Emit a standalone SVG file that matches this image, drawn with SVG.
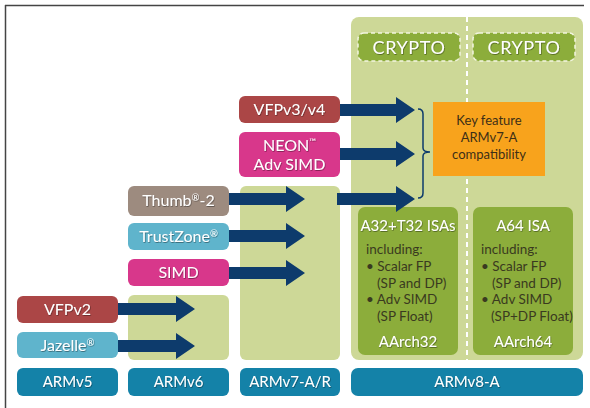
<svg xmlns="http://www.w3.org/2000/svg" width="590" height="408" viewBox="0 0 590 408">
<defs>
<filter id="sh" x="-10%" y="-20%" width="130%" height="150%">
<feDropShadow dx="0.6" dy="0.8" stdDeviation="0.5" flood-color="#000" flood-opacity="0.45"/>
</filter>
</defs>
<style>
text{font-family:Lato,"Liberation Sans",sans-serif;}
.lbl{fill:#fff;font-size:16px;text-anchor:middle;filter:url(#sh);}
.ver{fill:#fff;font-size:15px;text-anchor:middle;filter:url(#sh);}
.cry{fill:#fff;font-size:18px;letter-spacing:0.6px;text-anchor:middle;filter:url(#sh);}
.red{fill:#ab4646;}
.mag{fill:#d8378b;}
.tau{fill:#9d8b7f;}
.lb{fill:#5fb4cc;}
.teal{fill:#1482a8;}
.lg{fill:#cdd897;}
.dg{fill:#8cad3b;}
.arr{fill:#0d3b6c;}
.dark{fill:#3d2f17;font-size:13px;}
.inc{fill:#3a3a20;font-size:13.5px;}
.sm{fill:#3a3a20;font-size:13.5px;}
</style>
<rect width="590" height="408" fill="#fff"/>
<g id="frame" stroke="#444" stroke-width="1.5">
<line x1="5" y1="5.5" x2="584" y2="5.5"/>
<line x1="5.5" y1="5" x2="5.5" y2="408"/>
</g>
<g id="columns">
<rect class="lg" x="128" y="295" width="101" height="65" rx="6"/>
<rect class="lg" x="240" y="186" width="100" height="174" rx="6"/>
<rect class="lg" x="351" y="17" width="232" height="343" rx="8"/>
<line x1="467" y1="17" x2="467" y2="360" stroke="#fff" stroke-width="2" stroke-dasharray="5,4"/>
</g>
<g id="crypto32">
<rect class="dg" x="358" y="33" width="102" height="28" rx="6" stroke="#f2f5e0" stroke-width="1.5" stroke-dasharray="4,3"/>
<text class="cry" x="409" y="54">CRYPTO</text>
</g>
<g id="crypto64">
<rect class="dg" x="473" y="33" width="102" height="28" rx="6" stroke="#f2f5e0" stroke-width="1.5" stroke-dasharray="4,3"/>
<text class="cry" x="524" y="54">CRYPTO</text>
</g>
<g id="keyfeature">
<rect x="433" y="102" width="112" height="74" fill="#f8a31c"/>
<text class="dark" x="489" y="125" text-anchor="middle">Key feature</text>
<text class="dark" x="489" y="142" text-anchor="middle">ARMv7-A</text>
<text class="dark" x="489" y="159" text-anchor="middle">compatibility</text>
</g>
<g id="aarch32">
<rect class="dg" x="358" y="207" width="100" height="148" rx="7"/>
<text class="ver" x="408" y="231" font-size="13">A32+T32 ISAs</text>
<text class="inc" x="366" y="254">including:</text>
<text class="inc" x="366" y="271">• Scalar FP</text>
<text class="sm" x="377" y="288">(SP and DP)</text>
<text class="inc" x="366" y="304">• Adv SIMD</text>
<text class="sm" x="377" y="321">(SP Float)</text>
<text class="ver" x="408" y="347" font-size="16">AArch32</text>
</g>
<g id="aarch64">
<rect class="dg" x="473" y="207" width="100" height="148" rx="7"/>
<text class="ver" x="523" y="231" font-size="13.5">A64 ISA</text>
<text class="inc" x="481" y="254">including:</text>
<text class="inc" x="481" y="271">• Scalar FP</text>
<text class="sm" x="492" y="288">(SP and DP)</text>
<text class="inc" x="481" y="304">• Adv SIMD</text>
<text class="sm" x="491" y="321" font-size="13">(SP+DP Float)</text>
<text class="ver" x="523" y="347" font-size="16">AArch64</text>
</g>
<g id="vfpv3">
<rect class="red" x="239" y="96" width="101" height="27" rx="6"/>
<text class="lbl" x="289.5" y="115">VFPv3/v4</text>
</g>
<g id="neon">
<rect class="mag" x="239" y="132" width="101" height="45" rx="6"/>
<text class="lbl" x="289.5" y="151">NEON<tspan font-size="9" dy="-6">™</tspan></text>
<text class="lbl" x="289.5" y="170">Adv SIMD</text>
</g>
<g id="thumb2">
<rect class="tau" x="128" y="186" width="101" height="30" rx="6"/>
<text class="lbl" x="178.5" y="206">Thumb<tspan font-size="9.5" dy="-5">®</tspan><tspan dy="5">-2</tspan></text>
</g>
<g id="trustzone">
<rect class="lb" x="128" y="223" width="101" height="27" rx="6"/>
<text class="lbl" x="178.5" y="242">TrustZone<tspan font-size="9.5" dy="-5">®</tspan></text>
</g>
<g id="simd">
<rect class="mag" x="128" y="259" width="101" height="27" rx="6"/>
<text class="lbl" x="178.5" y="278">SIMD</text>
</g>
<g id="vfpv2">
<rect class="red" x="17" y="296" width="101" height="27" rx="6"/>
<text class="lbl" x="67.5" y="315">VFPv2</text>
</g>
<g id="jazelle">
<rect class="lb" x="17" y="332" width="101" height="26" rx="6"/>
<text class="lbl" x="67.5" y="351">Jazelle<tspan font-size="9.5" dy="-5">®</tspan></text>
</g>
<g id="armv5">
<rect class="teal" x="17" y="368" width="101" height="28" rx="6"/>
<text class="ver" x="67.5" y="387">ARMv5</text>
</g>
<g id="armv6">
<rect class="teal" x="128" y="368" width="101" height="28" rx="6"/>
<text class="ver" x="178.5" y="387">ARMv6</text>
</g>
<g id="armv7">
<rect class="teal" x="240" y="368" width="100" height="28" rx="6"/>
<text class="ver" x="290" y="387">ARMv7-A/R</text>
</g>
<g id="armv8">
<rect class="teal" x="351" y="368" width="232" height="28" rx="7"/>
<text class="ver" x="467" y="387">ARMv8-A</text>
</g>
<g id="connectors">
<polygon class="arr" points="340,104 396,104 396,97 415,110 396,123 396,116 340,116"/>
<polygon class="arr" points="340,148 396,148 396,141 415,154 396,167 396,160 340,160"/>
<polygon class="arr" points="229,193 286,193 286,186 305,199 286,212 286,205 229,205"/>
<polygon class="arr" points="337,193 396,193 396,186 415,199 396,212 396,205 337,205"/>
<polygon class="arr" points="229,230 286,230 286,223 305,236 286,249 286,242 229,242"/>
<polygon class="arr" points="229,267 286,267 286,260 305,273 286,286 286,279 229,279"/>
<polygon class="arr" points="118,303 176,303 176,296 195,309 176,322 176,315 118,315"/>
<polygon class="arr" points="118,340 176,340 176,333 195,346 176,359 176,352 118,352"/>
<path d="M418,109 Q423,109 423,114 L423,148 Q423,152 430,152 Q423,152 423,156 L423,193 Q423,198 418,198" fill="none" stroke="#0d3b6c" stroke-width="1.5"/>
</g>
</svg>
